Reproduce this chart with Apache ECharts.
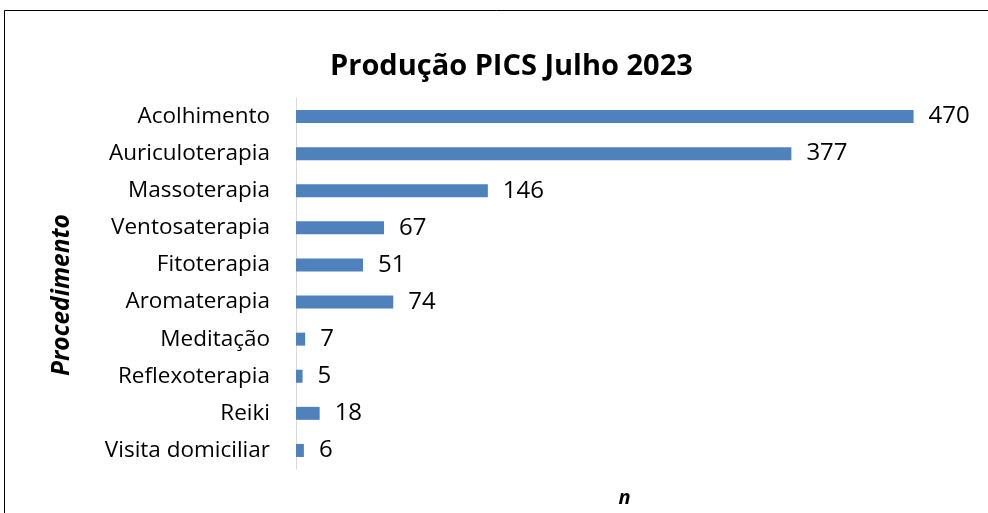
<!DOCTYPE html>
<html><head><meta charset="utf-8">
<script src="https://cdn.jsdelivr.net/npm/echarts@6/dist/echarts.min.js"></script>
<style>html,body{margin:0;padding:0;background:#fff}#c{width:988px;height:513px}</style>
</head><body><div id="c"></div>
<script>
const categories = ["Acolhimento","Auriculoterapia","Massoterapia","Ventosaterapia","Fitoterapia","Aromaterapia","Meditação","Reflexoterapia","Reiki","Visita domiciliar"];
const values = [470,377,146,67,51,74,7,5,18,6];
const titleText = "Produção PICS Julho 2023";
const yName = "Procedimento";
const xName = "n";

const font = "'Open Sans', 'Liberation Sans', sans-serif";
const chart = echarts.init(document.getElementById('c'), null, {renderer:'canvas'});
chart.setOption({
  animation:false,
  backgroundColor:'#fff',
  title:{text:titleText,left:325,top:47,textStyle:{fontFamily:font,fontSize:29,fontWeight:'bold',color:'#000'}},
  grid:{left:296,top:98,width:657,height:372,containLabel:false},
  xAxis:{type:'value',min:0,max:500,show:true,axisLine:{show:false},axisTick:{show:false},axisLabel:{show:false},splitLine:{show:false},
    name:xName,nameLocation:'middle',nameGap:19,nameTextStyle:{fontFamily:font,fontSize:20,fontWeight:'bold',fontStyle:'italic',color:'#000'}},
  yAxis:{type:'category',inverse:true,data:categories,axisLine:{show:true,lineStyle:{color:'#d9d9d9',width:1}},axisTick:{show:false},
    axisLabel:{fontFamily:font,fontSize:22.5,color:'#000',margin:26,padding:[3,0,0,0]}},
  series:[{type:'bar',data:values,barWidth:13,itemStyle:{color:'#4F81BD'},
    label:{show:true,position:'right',distance:15,fontFamily:font,fontSize:24,color:'#000',padding:[3,0,0,0]}}],
  graphic:[
    {type:'rect',shape:{x:4.5,y:10.5,width:1000,height:600},style:{fill:'none',stroke:'#000',lineWidth:1}},
    {type:'text',x:62,y:295,rotation:Math.PI/2,style:{text:yName,fontFamily:font,fontSize:24.5,fontWeight:'bold',fontStyle:'italic',fill:'#000',align:'center',verticalAlign:'middle'}}
  ]
});
</script></body></html>
